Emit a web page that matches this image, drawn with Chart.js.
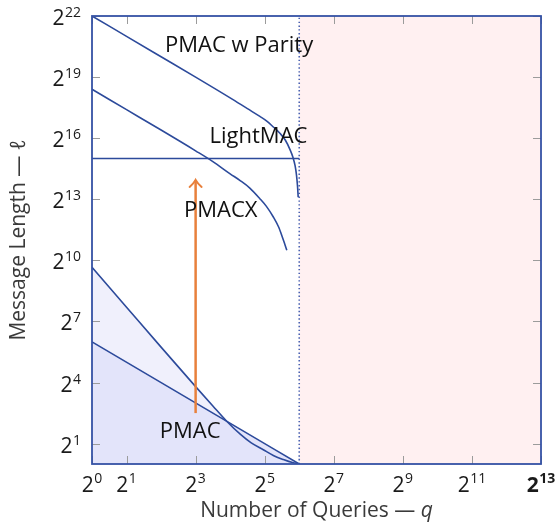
<!DOCTYPE html>
<html>
<head>
<meta charset="utf-8">
<script src="https://cdn.jsdelivr.net/npm/chart.js@4.4.1/dist/chart.umd.min.js"></script>
<style>
  html, body { margin: 0; padding: 0; background: #fff; }
  #wrap { width: 558px; height: 526px; }
</style>
</head>
<body>
<div id="wrap"><canvas id="boundChart"></canvas></div>
<script>
// every value is a base-2 exponent: q = 2^x, l = 2^y
const xTicks = [0, 1, 3, 5, 7, 9, 11, 13];
const xTickLabels = ['0', '1', '3', '5', '7', '9', '11', '13'];
const yTicks = [1, 4, 7, 10, 13, 16, 19, 22];
const yTickLabels = ['1', '4', '7', '10', '13', '16', '19', '22'];

const parityQ = [0, 1, 2, 3, 4, 4.5, 4.86, 5.06, 5.25, 5.44, 5.6, 5.73, 5.82, 5.88, 5.92, 5.95, 5.97];
const parityL = [22, 21, 20, 19, 17.98, 17.45, 17.07, 16.84, 16.55, 16.24, 15.9, 15.45, 15.05, 14.65, 14.2, 13.65, 13.1];

const pmacxQ = [0, 1, 2, 3, 3.5, 4.0, 4.28, 4.57, 4.86, 5.05, 5.25, 5.4, 5.5, 5.58, 5.64];
const pmacxL = [18.4, 17.4, 16.4, 15.38, 14.85, 14.25, 13.93, 13.55, 13.03, 12.65, 12.13, 11.65, 11.2, 10.8, 10.5];

const lightmacQ = [0, 6];
const lightmacL = [15, 15];

const pmacQ = [0, 1, 2, 3, 3.5, 3.9, 4.3, 4.6, 4.96, 5.25, 5.54, 5.8, 6];
const pmacL = [9.66, 7.7, 5.74, 3.8, 2.85, 2.1, 1.45, 1.05, 0.7, 0.42, 0.22, 0.07, 0];

const pmacLineQ = [0, 6];
const pmacLineL = [6, 0];

// dotted bound and the shaded region right of it
const boundQ = [6, 6];
const boundL = [0, 22];
const outsideQ = [6, 13];
const outsideL = [22, 22];

const arrowQ = [3, 3];
const arrowL = [2.5, 13.95];

const curveNames = ['PMAC w Parity', 'LightMAC', 'PMACX', 'PMAC'];
const nameQ = [4.26, 4.82, 3.73, 2.84];
const nameL = [20.53, 16.06, 12.45, 1.59];

const FONT = 'Open Sans';
const BLUE = '#2c4a9b';
const ORANGE = '#e8803c';

const pts = (xs, ys) => xs.map((x, i) => ({ x, y: ys[i] }));

const curve = (data, extra) => Object.assign({
  data, showLine: true, borderColor: BLUE, borderWidth: 1.6,
  pointRadius: 0, fill: false, cubicInterpolationMode: 'monotone'
}, extra);

// "2" with a raised exponent
function drawPower(ctx, exp, x, baseY, supY, align, bold) {
  const w = bold ? 'bold ' : '';
  ctx.font = `${w}21px "${FONT}"`;
  const w1 = ctx.measureText('2').width;
  ctx.font = `${w}14px "${FONT}"`;
  const w2 = ctx.measureText(exp).width;
  const total = w1 + w2 + 0.5;
  const x0 = align === 'right' ? x - total : x - total / 2;
  ctx.textAlign = 'left';
  ctx.textBaseline = 'alphabetic';
  ctx.font = `${w}21px "${FONT}"`;
  ctx.fillText('2', x0, baseY);
  ctx.font = `${w}14px "${FONT}"`;
  ctx.fillText(exp, x0 + w1 + 0.5, supY);
}

const decor = {
  id: 'decor',
  afterDatasetsDraw(chart) {
    const { ctx, chartArea: a, scales: { x, y } } = chart;
    ctx.save();

    // inward tick marks on all four sides
    ctx.strokeStyle = '#9b9b9b';
    ctx.lineWidth = 1;
    ctx.beginPath();
    xTicks.forEach(v => {
      const px = Math.round(x.getPixelForValue(v)) + 0.5;
      ctx.moveTo(px, a.bottom); ctx.lineTo(px, a.bottom - 8);
      ctx.moveTo(px, a.top); ctx.lineTo(px, a.top + 8);
    });
    yTicks.forEach(v => {
      const py = Math.round(y.getPixelForValue(v)) + 0.5;
      ctx.moveTo(a.left, py); ctx.lineTo(a.left + 8, py);
      ctx.moveTo(a.right, py); ctx.lineTo(a.right - 8, py);
    });
    ctx.stroke();

    // frame
    ctx.strokeStyle = '#3552a5';
    ctx.lineWidth = 1.8;
    ctx.strokeRect(a.left, a.top, a.right - a.left, a.bottom - a.top);

    // tick labels
    ctx.fillStyle = '#1a1a1a';
    xTicks.forEach((v, i) => {
      drawPower(ctx, xTickLabels[i], x.getPixelForValue(v), a.bottom + 28, a.bottom + 19, 'center', v === 13);
    });
    yTicks.forEach((v, i) => {
      const py = y.getPixelForValue(v);
      drawPower(ctx, yTickLabels[i], a.left - 11, py + 9, py + 1, 'right', false);
    });

    // arrow head
    const tx = x.getPixelForValue(arrowQ[1]);
    const ty = y.getPixelForValue(arrowL[1]);
    ctx.strokeStyle = ORANGE;
    ctx.lineWidth = 2;
    ctx.lineCap = 'round';
    ctx.beginPath();
    ctx.moveTo(tx - 6, ty + 7);
    ctx.quadraticCurveTo(tx - 1.5, ty + 3, tx, ty);
    ctx.quadraticCurveTo(tx + 1.5, ty + 3, tx + 6, ty + 7);
    ctx.stroke();

    // curve names
    ctx.fillStyle = '#111';
    ctx.font = `22px "${FONT}"`;
    ctx.textAlign = 'center';
    ctx.textBaseline = 'middle';
    curveNames.forEach((t, i) => {
      ctx.fillText(t, x.getPixelForValue(nameQ[i]), y.getPixelForValue(nameL[i]));
    });

    // axis titles, with the variable set in italics
    ctx.fillStyle = '#3a3a3a';
    const title = (main, sym, cx, cy, rot) => {
      ctx.save();
      ctx.translate(cx, cy);
      ctx.rotate(rot);
      ctx.textBaseline = 'middle';
      ctx.font = `21px "${FONT}"`;
      const w1 = ctx.measureText(main).width;
      ctx.font = `italic 21px "${FONT}"`;
      const w2 = ctx.measureText(sym).width;
      ctx.textAlign = 'left';
      ctx.font = `21px "${FONT}"`;
      ctx.fillText(main, -(w1 + w2) / 2, 0);
      ctx.font = `italic 21px "${FONT}"`;
      ctx.fillText(sym, -(w1 + w2) / 2 + w1, 0);
      ctx.restore();
    };
    title('Number of Queries — ', 'q', (a.left + a.right) / 2, 511, 0);
    title('Message Length — ', 'ℓ', 19, (a.top + a.bottom) / 2, -Math.PI / 2);

    ctx.restore();
  }
};

new Chart(document.getElementById('boundChart').getContext('2d'), {
  type: 'scatter',
  data: {
    datasets: [
      curve(pts(arrowQ, arrowL), { borderColor: ORANGE, borderWidth: 2.5, order: 0, cubicInterpolationMode: 'default' }),
      curve(pts(parityQ, parityL), { order: 1 }),
      curve(pts(pmacxQ, pmacxL), { order: 1 }),
      curve(pts(lightmacQ, lightmacL), { order: 1 }),
      curve(pts(boundQ, boundL), { borderColor: '#4a63b2', borderWidth: 1.6, borderDash: [1.4, 2.4], order: 2 }),
      curve(pts(pmacLineQ, pmacLineL), { fill: 'origin', backgroundColor: '#e3e4fa', order: 3 }),
      curve(pts(pmacQ, pmacL), { fill: 'origin', backgroundColor: '#f0f0fc', order: 4 }),
      curve(pts(outsideQ, outsideL), { borderWidth: 0, fill: 'origin', backgroundColor: '#fff0f1', order: 5 })
    ]
  },
  options: {
    responsive: true,
    maintainAspectRatio: false,
    animation: false,
    layout: { padding: { top: 16, right: 17, left: 0, bottom: 0 } },
    plugins: {
      legend: { display: false },
      tooltip: { enabled: false },
      filler: { drawTime: 'beforeDatasetsDraw' }
    },
    scales: {
      x: {
        type: 'linear', min: 0, max: 13,
        afterBuildTicks: s => { s.ticks = xTicks.map(v => ({ value: v })); },
        afterFit: s => { s.height = 62; s.paddingLeft = 0; s.paddingRight = 0; },
        grid: { display: false },
        border: { display: false },
        ticks: { display: false }
      },
      y: {
        type: 'linear', min: 0, max: 22,
        afterBuildTicks: s => { s.ticks = yTicks.map(v => ({ value: v })); },
        afterFit: s => { s.width = 92; s.paddingTop = 0; s.paddingBottom = 0; },
        grid: { display: false },
        border: { display: false },
        ticks: { display: false }
      }
    }
  },
  plugins: [decor]
});
</script>
</body>
</html>
